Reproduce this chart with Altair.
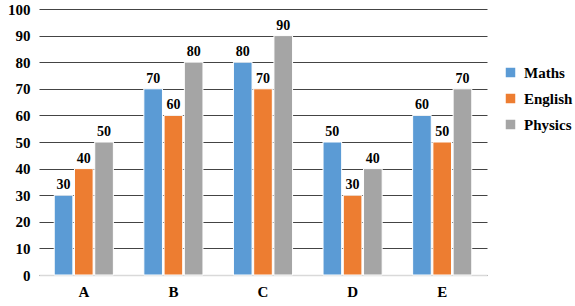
import altair as alt
import pandas as pd

categories = ["A", "B", "C", "D", "E"]
maths = [30, 70, 80, 50, 60]
english = [40, 60, 70, 30, 50]
physics = [50, 80, 90, 40, 70]
series = ["Maths", "English", "Physics"]
colors = ["#5B9BD5", "#ED7D31", "#A5A5A5"]

rows = []
for i, c in enumerate(categories):
    for s, vals in zip(series, [maths, english, physics]):
        rows.append({"cat": c, "subject": s, "value": vals[i]})
df = pd.DataFrame(rows)

font = "serif"

x = alt.X("cat:N", title=None, sort=categories,
          scale=alt.Scale(paddingInner=0.34, paddingOuter=0.17),
          axis=alt.Axis(labelAngle=0, labelFont=font, labelFontWeight="bold",
                        labelFontSize=15, labelColor="#000", ticks=False,
                        domain=True, domainColor="#d9d9d9", domainWidth=1.5,
                        labelPadding=9))
y = alt.Y("value:Q", title=None,
          scale=alt.Scale(domain=[0, 100], nice=False),
          axis=alt.Axis(values=list(range(0, 101, 10)), labelFont=font,
                        labelFontWeight="bold", labelFontSize=15, labelColor="#000",
                        labelOverlap=False,
                        ticks=False, domain=False, gridColor="#444", gridWidth=1,
                        labelPadding=9))
xo = alt.XOffset("subject:N", sort=series,
                 scale=alt.Scale(paddingInner=0.08))

bars = alt.Chart(df).mark_bar(stroke="white", strokeWidth=1).encode(
    x=x, y=y, xOffset=xo,
    color=alt.Color("subject:N", sort=series,
                    scale=alt.Scale(domain=series, range=colors),
                    legend=alt.Legend(title=None, orient="none", legendX=464, legendY=56,
                                      labelFont=font, labelFontWeight="bold",
                                      labelFontSize=15, labelColor="#000",
                                      symbolType="square", symbolSize=90,
                                      symbolStrokeWidth=0, rowPadding=10,
                                      labelOffset=6)),
)

labels = alt.Chart(df).mark_text(dy=-10, font=font, fontWeight="bold",
                                 fontSize=14, color="#000").encode(
    x=x, y=y, xOffset=xo, text="value:Q")

chart = alt.layer(bars, labels).properties(
    width=448, height=266,
    background="white",
    autosize=alt.AutoSizeParams(type="none"),
    padding={"left": 39, "top": 9, "right": 88, "bottom": 31},
).configure_view(stroke=None)

chart.save("out.html", embed_options={"renderer": "svg", "actions": False})
